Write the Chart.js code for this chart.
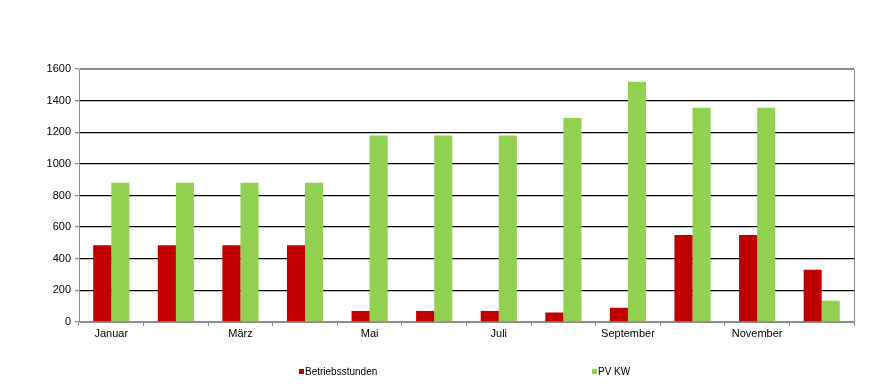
<!DOCTYPE html>
<html>
<head>
<meta charset="utf-8">
<script src="https://cdn.jsdelivr.net/npm/chart.js@4/dist/chart.umd.min.js"></script>
<style>
  html, body { margin: 0; padding: 0; background: #fff; }
  #wrap { position: relative; width: 874px; height: 389px; }
  #legend { position: absolute; top: 366px; left: 0; width: 874px; height: 14px;
            font: 10px "Liberation Sans", Arial, sans-serif; color: #000; }
  .lg-item { position: absolute; white-space: nowrap; line-height: 12px; }
  .lg-box { display: inline-block; width: 5px; height: 5px; margin-right: 1px; vertical-align: 1px; }
</style>
</head>
<body>
<div id="wrap">
  <canvas id="chart" width="874" height="389"></canvas>
  <div id="legend"></div>
</div>
<script>
// data
var months = ['Januar', 'Februar', 'März', 'April', 'Mai', 'Juni', 'Juli', 'August', 'September', 'Oktober', 'November', 'Dezember'];
var betriebsstunden = [485, 485, 485, 485, 70, 70, 70, 60, 90, 550, 550, 330];
var pvKw = [880, 880, 880, 880, 1180, 1180, 1180, 1290, 1520, 1355, 1355, 135];
var yTicks = [0, 200, 400, 600, 800, 1000, 1200, 1400, 1600];

var seriesNames = ['Betriebsstunden', 'PV KW'];
var seriesColors = ['#C00000', '#92D050'];
var legendX = [299, 592];

var GRAY = '#8c8c8c';

// frame around plot area (top + right)
var frame = {
  id: 'frame',
  afterDraw: function (chart) {
    var a = chart.chartArea, c = chart.ctx;
    c.save();
    c.strokeStyle = GRAY;
    c.lineWidth = 1;
    c.beginPath();
    c.moveTo(a.left, a.top + 0.5);
    c.lineTo(a.right + 0.5, a.top + 0.5);
    c.lineTo(a.right + 0.5, a.bottom);
    c.stroke();
    c.restore();
  }
};

new Chart(document.getElementById('chart'), {
  type: 'bar',
  data: {
    labels: months,
    datasets: [
      { label: seriesNames[0], data: betriebsstunden, backgroundColor: seriesColors[0], borderWidth: 0 },
      { label: seriesNames[1], data: pvKw, backgroundColor: seriesColors[1], borderWidth: 0 }
    ]
  },
  options: {
    responsive: false, animation: false,
    layout: { padding: { top: 69, right: 20, left: 0, bottom: 0 } },
    plugins: { legend: { display: false }, tooltip: { enabled: false } },
    datasets: { bar: { barPercentage: 1, categoryPercentage: 0.56 } },
    scales: {
      x: {
        offset: true,
        grid: { offset: true, drawOnChartArea: false, drawTicks: true, tickLength: 4, color: GRAY },
        border: { color: GRAY, width: 1 },
        ticks: {
          autoSkip: false, maxRotation: 0, padding: 1, color: '#000',
          font: { family: '"Liberation Sans", Arial, sans-serif', size: 11 },
          callback: function (v, i) { return i % 2 === 0 ? months[i] : ''; }
        },
        afterFit: function (s) { s.height = 67; }
      },
      y: {
        min: 0, max: 1600,
        afterBuildTicks: function (s) { s.ticks = yTicks.map(function (v) { return { value: v }; }); },
        grid: {
          lineWidth: 1.3, tickLength: 4,
          color: function (ctx) { var v = ctx.tick && ctx.tick.value; return (v === 0 || v === 1600) ? GRAY : '#000'; },
          tickColor: GRAY
        },
        border: { color: GRAY, width: 1 },
        ticks: {
          padding: 4, color: '#000', font: { family: '"Liberation Sans", Arial, sans-serif', size: 11 },
          callback: function (v) { return String(v); }
        },
        afterFit: function (s) { s.width = 79; }
      }
    }
  },
  plugins: [frame]
});

// legend
var lg = document.getElementById('legend');
seriesNames.forEach(function (n, i) {
  var it = document.createElement('span');
  it.className = 'lg-item';
  it.style.left = legendX[i] + 'px';
  it.innerHTML = '<span class="lg-box" style="background:' + seriesColors[i] + '"></span>' + n;
  lg.appendChild(it);
});
</script>
</body>
</html>
